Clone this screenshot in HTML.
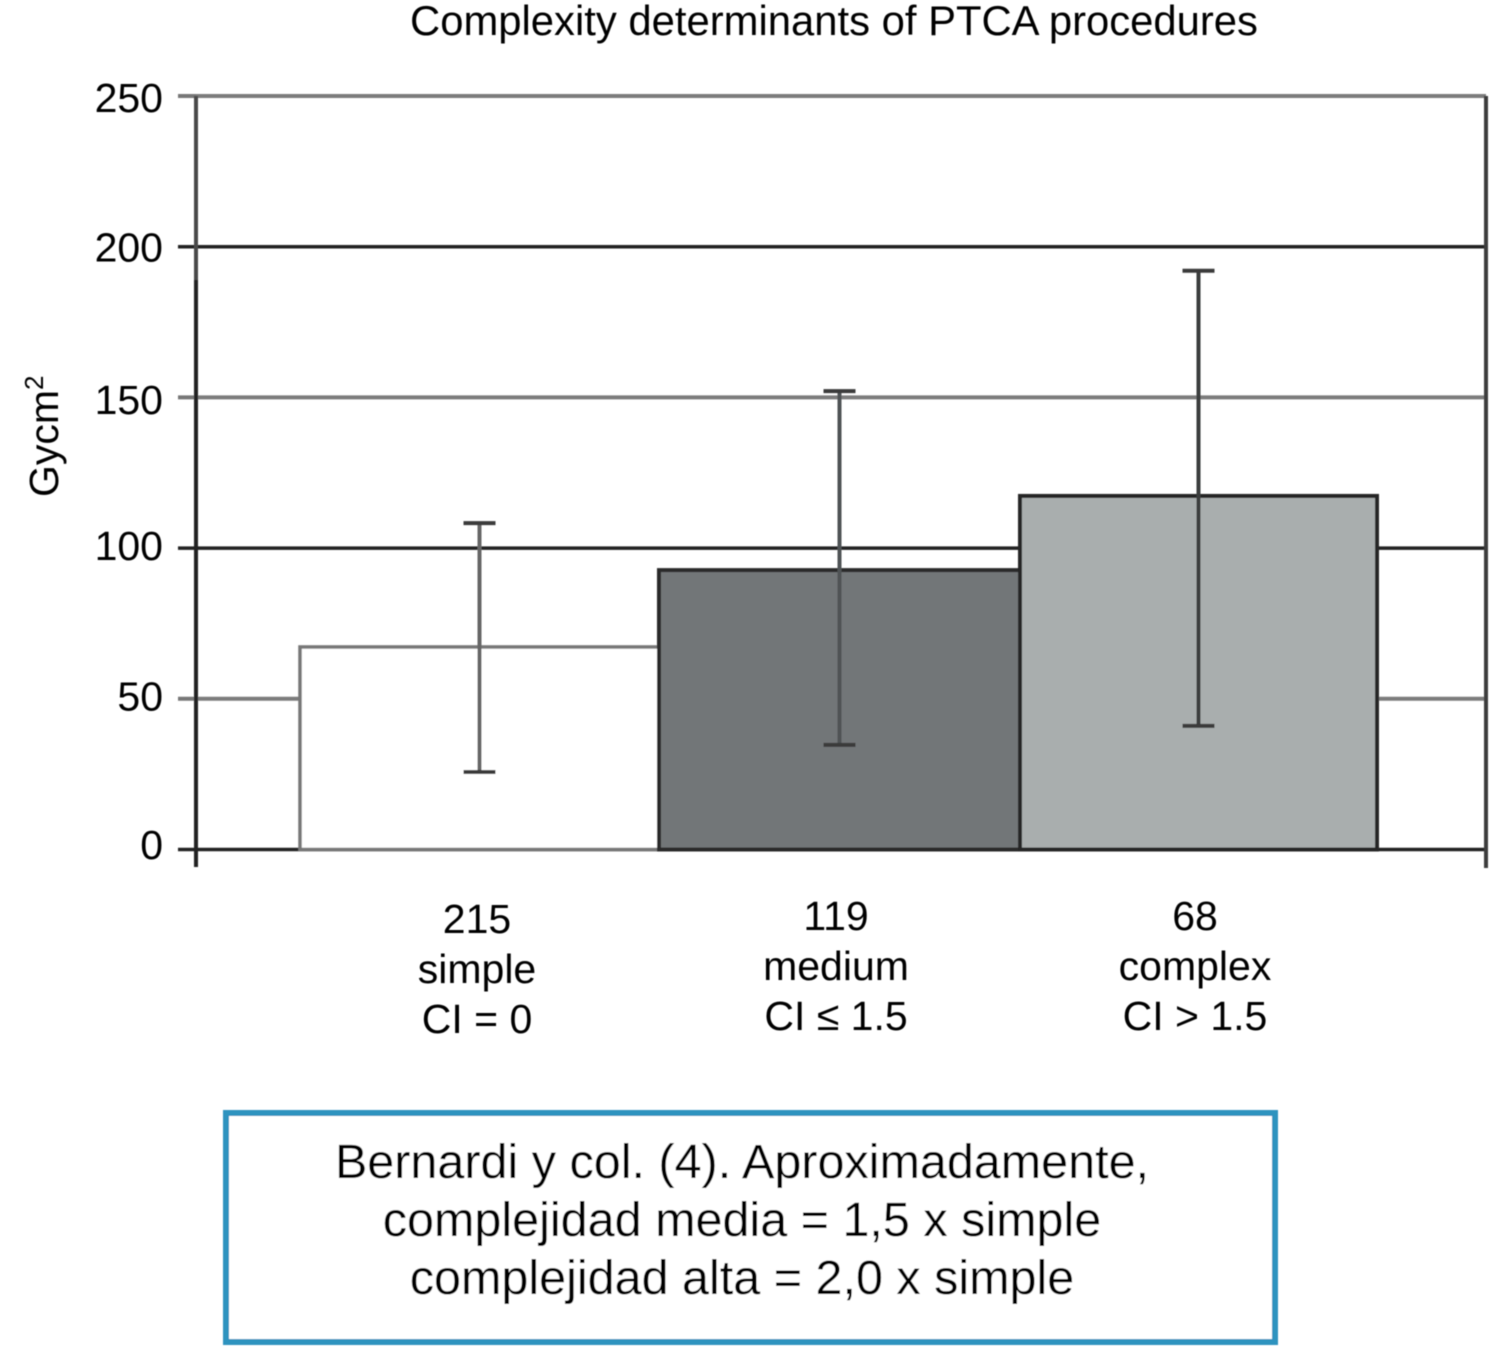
<!DOCTYPE html>
<html>
<head>
<meta charset="utf-8">
<style>
html,body{margin:0;padding:0;background:#fff;}
svg{display:block;}
text{font-family:"Liberation Sans",Arial,sans-serif;fill:#000;}
</style>
</head>
<body>
<svg id="chart" width="1502" height="1356" viewBox="0 0 1502 1356" xmlns="http://www.w3.org/2000/svg">
<defs>
<filter id="soft" filterUnits="userSpaceOnUse" x="0" y="0" width="1502" height="1356"><feGaussianBlur stdDeviation="0.55"/></filter>
</defs>
<g filter="url(#soft)">
<text x="834" y="35" font-size="41.8" text-anchor="middle">Complexity determinants of PTCA procedures</text>
<g id="grid"></g>
<g id="bars"></g>
<g id="axes"></g>
<g id="errs"></g>
<g id="labels"></g>
<text transform="translate(58,497) rotate(-90)" font-size="41">Gycm<tspan dy="-15" font-size="26">2</tspan></text>
<rect x="226" y="1113" width="1049" height="229" fill="#fff" stroke="#2e93bf" stroke-width="6"/>
<text x="742" y="1178" font-size="48.5" text-anchor="middle">Bernardi y col. (4). Aproximadamente,</text>
<text x="742" y="1236" font-size="48.5" text-anchor="middle">complejidad media = 1,5 x simple</text>
<text x="742" y="1294" font-size="48.5" text-anchor="middle">complejidad alta = 2,0 x simple</text>
</g>
</svg>
<script>
const categories = ["simple", "medium", "complex"];
const counts = ["215", "119", "68"];
const ciLabels = ["CI = 0", "CI ≤ 1.5", "CI > 1.5"];
const means = [67.2, 92.7, 117.3];
const errLow = [25.7, 34.7, 41];
const errHigh = [108.3, 152.1, 192];
const yTicks = [0, 50, 100, 150, 200, 250];

const NS = "http://www.w3.org/2000/svg";
const plotTop = 96, plotBottom = 849.5, plotLeft = 196, plotRight = 1486;
const yMax = 250;
function y(v){ return plotBottom - (v / yMax) * (plotBottom - plotTop); }
function labelY(v){ return 859 - (v / yMax) * 747 + (v === 150 ? 3 : 0) + (v === 50 ? 1 : 0); }
const barEdges = [300, 659, 1020, 1377];
function xBar(i){ return barEdges[i]; }
function xMid(i){ return (barEdges[i] + barEdges[i + 1]) / 2; }
const barFills = ["#ffffff", "#727678", "#a9aeae"];
const barStrokes = ["#777777", "#2b2b2b", "#262626"];
const stemColors = ["#666666", "#4f5354", "#3a3d3e"];
const labelX = [477, 836, 1195];
const labelBase = [933, 930, 930];

function mk(tag, attrs, parent, text){
  const e = document.createElementNS(NS, tag);
  for (const k in attrs) e.setAttribute(k, attrs[k]);
  if (text !== undefined) e.textContent = text;
  parent.appendChild(e);
  return e;
}
const grid = document.getElementById("grid");
const axes = document.getElementById("axes");
const bars = document.getElementById("bars");
const errs = document.getElementById("errs");
const labels = document.getElementById("labels");

yTicks.forEach(function(t){
  const dark = t % 100 === 0;
  const g = mk("line", {x1: plotLeft, x2: plotRight, y1: y(t), y2: y(t), stroke: dark ? "#222" : "#7b7b7b", "stroke-width": dark ? 3.5 : 4}, grid);
  
  
  const tk = mk("line", {x1: 178, x2: plotLeft, y1: y(t), y2: y(t), stroke: dark ? "#222" : "#777", "stroke-width": dark ? 3.5 : 4}, axes);
  
  
  const l = mk("text", {x: 163, y: labelY(t), "font-size": 41, "text-anchor": "end"}, axes, String(t));
  
  
});

const laTop = mk("line", {x1: plotLeft, x2: plotLeft, y1: plotTop, y2: 280, stroke: "#4a4a4a", "stroke-width": 4}, axes);


const la = mk("line", {x1: plotLeft, x2: plotLeft, y1: 280, y2: 867, stroke: "#222", "stroke-width": 4}, axes);


const ra = mk("line", {x1: plotRight, x2: plotRight, y1: plotTop, y2: 868, stroke: "#3c3c3c", "stroke-width": 4}, axes);



categories.forEach(function(c, i){
  const b = mk("rect", {x: xBar(i), y: y(means[i]), width: barEdges[i + 1] - barEdges[i], height: plotBottom - y(means[i]), fill: barFills[i], stroke: barStrokes[i], "stroke-width": i === 0 ? 3.5 : 4}, bars);
  
  

  const cx = xMid(i);
  const v = mk("line", {x1: cx, x2: cx, y1: y(errHigh[i]), y2: y(errLow[i]), stroke: stemColors[i], "stroke-width": 4}, errs);
  
  
  [errHigh[i], errLow[i]].forEach(function(e){
    const cap = mk("line", {x1: cx - 16, x2: cx + 16, y1: y(e), y2: y(e), stroke: "#3a3a3a", "stroke-width": 4}, errs);
    
    
  });

  [counts[i], c, ciLabels[i]].forEach(function(s, j){
    const t = mk("text", {x: labelX[i], y: labelBase[i] + j * 50, "font-size": 41, "text-anchor": "middle"}, labels, s);
    
    
  });
});
</script>
</body>
</html>
